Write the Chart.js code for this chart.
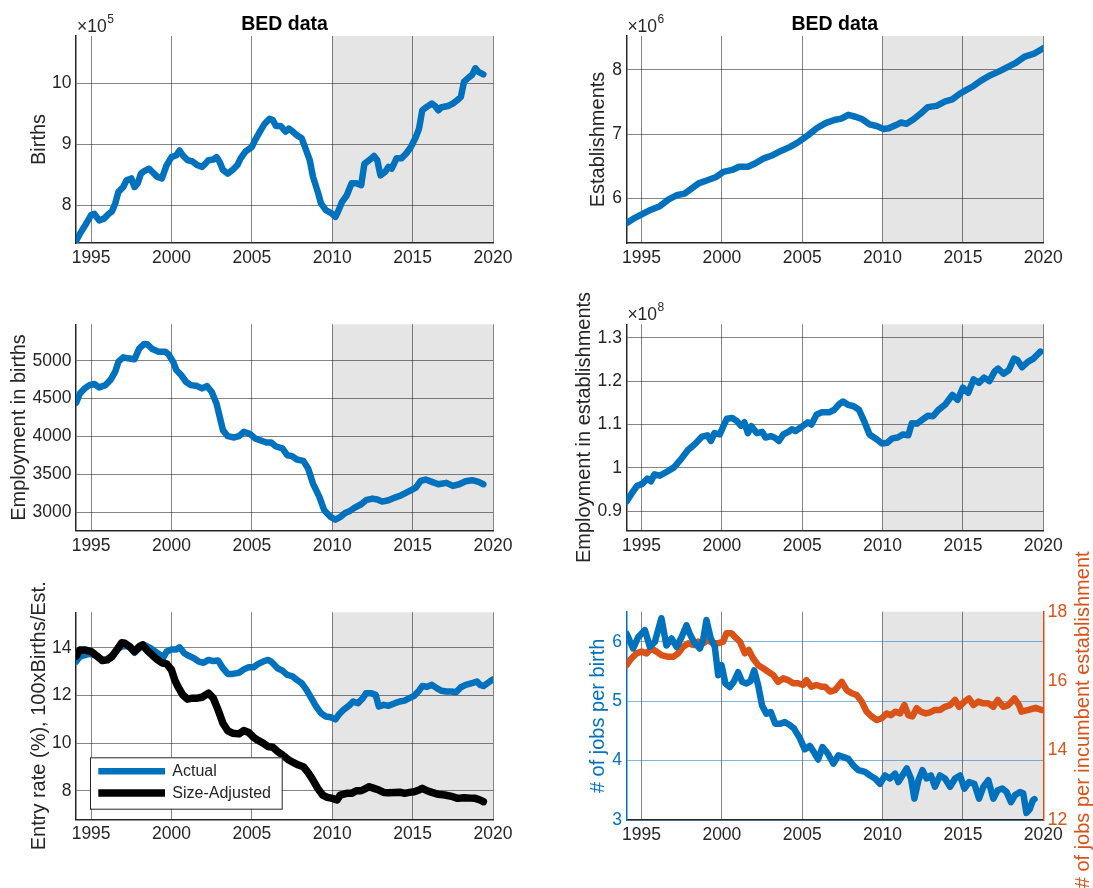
<!DOCTYPE html>
<html>
<head>
<meta charset="utf-8">
<title>BED data</title>
<script src="https://cdn.jsdelivr.net/npm/chart.js@4.4.1/dist/chart.umd.min.js"></script>
<style>
  html, body { margin: 0; padding: 0; background: #fff; width: 1093px; height: 888px; overflow: hidden; }
  canvas { position: absolute; }
</style>
</head>
<body>
<script>
// ---------------------------------------------------------------------------
// Quarterly BED series (decimal years) and the values read for each panel
// ---------------------------------------------------------------------------
const yearTicks = [1995, 2000, 2005, 2010, 2015, 2020];
const yearTickLabels = ['1995', '2000', '2005', '2010', '2015', '2020'];

// Births, x10^5
const birthYears = [
  1994.07, 1994.3, 1994.7, 1995.0, 1995.2, 1995.5, 1995.8, 1996.1, 1996.3, 1996.5,
  1996.7, 1997.0, 1997.2, 1997.5, 1997.7, 1997.9, 1998.1, 1998.3, 1998.6, 1998.8,
  1999.1, 1999.4, 1999.7, 2000.0, 2000.3, 2000.5, 2000.7, 2001.0, 2001.3, 2001.6,
  2001.9, 2002.1, 2002.3, 2002.6, 2002.8, 2003.0, 2003.2, 2003.5, 2003.8, 2004.1,
  2004.3, 2004.6, 2005.0, 2005.2, 2005.5, 2005.8, 2006.1, 2006.3, 2006.5, 2006.8,
  2007.1, 2007.3, 2007.5, 2007.8, 2008.1, 2008.3, 2008.6, 2008.8, 2009.1, 2009.3,
  2009.6, 2010.0, 2010.2, 2010.4, 2010.6, 2010.9, 2011.2, 2011.5, 2011.8, 2012.0,
  2012.3, 2012.6, 2012.8, 2013.0, 2013.3, 2013.5, 2013.7, 2014.0, 2014.3, 2014.6,
  2014.9, 2015.2, 2015.4, 2015.6, 2015.9, 2016.2, 2016.4, 2016.6, 2016.8, 2017.2,
  2017.5, 2017.8, 2018.0, 2018.2, 2018.5, 2018.7, 2018.9, 2019.1, 2019.4
];
const births = [
  7.42, 7.53, 7.70, 7.84, 7.86, 7.75, 7.78, 7.86, 7.90, 8.03,
  8.22, 8.30, 8.41, 8.44, 8.30, 8.36, 8.52, 8.56, 8.60, 8.55,
  8.47, 8.44, 8.66, 8.79, 8.82, 8.90, 8.82, 8.74, 8.72, 8.66,
  8.63, 8.68, 8.74, 8.75, 8.79, 8.71, 8.58, 8.52, 8.58, 8.66,
  8.77, 8.88, 8.96, 9.07, 9.21, 9.34, 9.42, 9.40, 9.30, 9.30,
  9.21, 9.26, 9.22, 9.15, 9.10, 8.96, 8.74, 8.47, 8.22, 8.03,
  7.92, 7.86, 7.81, 7.92, 8.05, 8.16, 8.36, 8.36, 8.33, 8.68,
  8.74, 8.81, 8.74, 8.49, 8.55, 8.63, 8.60, 8.77, 8.77, 8.85,
  8.96, 9.12, 9.26, 9.56, 9.62, 9.67, 9.63, 9.56, 9.61, 9.63,
  9.67, 9.73, 9.78, 10.03, 10.10, 10.14, 10.25, 10.19, 10.15
];

// Establishments, x10^6
const estabYears = [
  1994.06, 1994.5, 1995.04, 1995.59, 1996.14, 1996.69, 1997.24, 1997.68, 1998.11, 1998.55,
  1999.1, 1999.65, 2000.09, 2000.64, 2001.07, 2001.62, 2002.06, 2002.61, 2003.16, 2003.71,
  2004.25, 2004.8, 2005.35, 2005.9, 2006.45, 2007.0, 2007.43, 2007.87, 2008.31, 2008.75,
  2009.19, 2009.63, 2010.07, 2010.39, 2010.83, 2011.16, 2011.49, 2011.93, 2012.37, 2012.81,
  2013.36, 2013.9, 2014.34, 2014.78, 2015.22, 2015.66, 2016.1, 2016.64, 2017.19, 2017.74,
  2018.29, 2018.84, 2019.39, 2020.0
];
const establishments = [
  5.61, 5.68, 5.75, 5.82, 5.875, 5.98, 6.05, 6.07, 6.15, 6.23,
  6.28, 6.33, 6.41, 6.44, 6.49, 6.49, 6.54, 6.62, 6.67, 6.74,
  6.80, 6.88, 6.98, 7.09, 7.17, 7.22, 7.24, 7.30, 7.27, 7.23,
  7.15, 7.125, 7.08, 7.09, 7.14, 7.18, 7.16, 7.23, 7.32, 7.42,
  7.44, 7.51, 7.54, 7.625, 7.69, 7.75, 7.83, 7.91, 7.97, 8.04,
  8.11, 8.21, 8.25, 8.34
];

// Employment in births
const empBirthYears = [
  1994.07, 1994.3, 1994.6, 1994.9, 1995.2, 1995.5, 1995.9, 1996.2, 1996.5, 1996.7,
  1997.0, 1997.3, 1997.7, 1998.0, 1998.3, 1998.5, 1998.8, 1999.2, 1999.6, 1999.8,
  2000.1, 2000.3, 2000.6, 2000.9, 2001.2, 2001.6, 2001.9, 2002.2, 2002.5, 2002.8,
  2003.0, 2003.2, 2003.5, 2003.9, 2004.2, 2004.5, 2004.9, 2005.2, 2005.6, 2005.9,
  2006.2, 2006.5, 2006.9, 2007.2, 2007.5, 2007.8, 2008.2, 2008.5, 2008.8, 2009.2,
  2009.5, 2009.9, 2010.2, 2010.5, 2010.8, 2011.1, 2011.4, 2011.8, 2012.1, 2012.5,
  2012.8, 2013.1, 2013.5, 2013.9, 2014.3, 2014.7, 2015.2, 2015.5, 2015.8, 2016.2,
  2016.6, 2017.1, 2017.5, 2017.9, 2018.3, 2018.7, 2019.1, 2019.4
];
const empBirths = [
  4443, 4566, 4634, 4678, 4692, 4648, 4678, 4744, 4855, 4987,
  5044, 5031, 5018, 5163, 5220, 5216, 5154, 5119, 5119, 5088,
  4987, 4877, 4811, 4722, 4678, 4665, 4634, 4665, 4590, 4436,
  4260, 4084, 4004, 3987, 4004, 4062, 4031, 3974, 3943, 3921,
  3921, 3868, 3842, 3753, 3740, 3696, 3678, 3577, 3379, 3203,
  3027, 2938, 2903, 2938, 2991, 3018, 3062, 3106, 3159, 3181,
  3168, 3141, 3159, 3194, 3225, 3269, 3326, 3414, 3432, 3401,
  3370, 3388, 3348, 3370, 3410, 3423, 3401, 3370
];

// Employment in establishments, x10^8
const empEstabYears = [
  1994.06, 1994.39, 1994.71, 1995.04, 1995.37, 1995.59, 1995.81, 1996.14, 1996.58, 1997.02,
  1997.46, 1997.89, 1998.33, 1998.77, 1999.10, 1999.32, 1999.54, 1999.87, 2000.09, 2000.31,
  2000.64, 2000.96, 2001.18, 2001.40, 2001.62, 2001.84, 2002.17, 2002.50, 2002.72, 2003.05,
  2003.27, 2003.55, 2003.82, 2004.14, 2004.36, 2004.58, 2005.02, 2005.35, 2005.57, 2005.90,
  2006.23, 2006.67, 2007.00, 2007.33, 2007.54, 2007.87, 2008.20, 2008.53, 2008.86, 2009.19,
  2009.63, 2009.96, 2010.29, 2010.61, 2010.94, 2011.27, 2011.60, 2011.82, 2012.15, 2012.48,
  2012.81, 2013.14, 2013.46, 2013.90, 2014.34, 2014.67, 2015.00, 2015.33, 2015.66, 2015.99,
  2016.32, 2016.64, 2016.97, 2017.19, 2017.52, 2017.85, 2018.18, 2018.40, 2018.68, 2019.06,
  2019.39, 2019.82
];
const empEstab = [
  0.922, 0.941, 0.958, 0.963, 0.975, 0.969, 0.985, 0.982, 0.991, 1.001,
  1.020, 1.041, 1.055, 1.072, 1.075, 1.062, 1.080, 1.077, 1.096, 1.113,
  1.115, 1.107, 1.097, 1.105, 1.080, 1.096, 1.080, 1.083, 1.070, 1.073,
  1.070, 1.062, 1.077, 1.083, 1.089, 1.085, 1.096, 1.105, 1.100, 1.123,
  1.128, 1.128, 1.134, 1.148, 1.153, 1.145, 1.142, 1.134, 1.107, 1.077,
  1.066, 1.056, 1.058, 1.068, 1.070, 1.077, 1.075, 1.103, 1.102, 1.111,
  1.120, 1.119, 1.133, 1.146, 1.168, 1.157, 1.185, 1.173, 1.204, 1.196,
  1.208, 1.200, 1.222, 1.229, 1.217, 1.225, 1.252, 1.248, 1.232, 1.245,
  1.252, 1.268
];

// Entry rate (%), actual
const entryYears = [
  1994.07, 1994.3, 1994.6, 1994.9, 1995.4, 1995.7, 1996.0, 1996.4, 1996.7, 1997.0,
  1997.4, 1997.7, 1998.0, 1998.3, 1998.7, 1999.0, 1999.3, 1999.5, 1999.7, 2000.0,
  2000.3, 2000.5, 2000.8, 2001.1, 2001.4, 2001.7, 2002.0, 2002.3, 2002.6, 2002.9,
  2003.2, 2003.5, 2003.8, 2004.2, 2004.5, 2004.8, 2005.1, 2005.4, 2005.7, 2006.0,
  2006.2, 2006.6, 2006.9, 2007.2, 2007.5, 2007.8, 2008.1, 2008.4, 2008.7, 2009.0,
  2009.3, 2009.6, 2009.9, 2010.2, 2010.4, 2010.7, 2011.1, 2011.3, 2011.6, 2011.9,
  2012.1, 2012.4, 2012.7, 2012.9, 2013.2, 2013.5, 2013.9, 2014.2, 2014.5, 2014.8,
  2015.1, 2015.4, 2015.6, 2015.9, 2016.2, 2016.5, 2016.8, 2017.1, 2017.4, 2017.7,
  2018.0, 2018.3, 2018.7, 2019.0, 2019.2, 2019.4, 2019.8, 2020.0
];
const entryActual = [
  13.43, 13.64, 13.70, 13.75, 13.66, 13.50, 13.52, 13.75, 13.99, 14.08,
  14.06, 13.80, 13.99, 14.13, 13.99, 13.85, 13.71, 13.60, 13.85, 13.94,
  13.94, 14.03, 13.78, 13.66, 13.57, 13.43, 13.38, 13.50, 13.45, 13.47,
  13.15, 12.91, 12.91, 12.96, 13.10, 13.19, 13.19, 13.33, 13.43, 13.50,
  13.43, 13.15, 13.05, 12.87, 12.82, 12.66, 12.52, 12.24, 11.89, 11.54,
  11.26, 11.12, 11.09, 11.00, 11.19, 11.40, 11.61, 11.75, 11.68, 11.89,
  12.10, 12.10, 12.03, 11.54, 11.61, 11.57, 11.68, 11.75, 11.79, 11.89,
  11.99, 12.21, 12.40, 12.37, 12.45, 12.31, 12.20, 12.17, 12.17, 12.14,
  12.35, 12.45, 12.52, 12.59, 12.45, 12.40, 12.59, 12.68
];

// Entry rate (%), size-adjusted
const adjYears = [
  1994.07, 1994.3, 1994.6, 1995.0, 1995.4, 1995.7, 1996.0, 1996.3, 1996.6, 1996.9,
  1997.1, 1997.4, 1997.7, 1998.0, 1998.2, 1998.5, 1998.8, 1999.1, 1999.4, 1999.7,
  2000.0, 2000.2, 2000.4, 2000.7, 2001.0, 2001.3, 2001.6, 2001.9, 2002.3, 2002.6,
  2002.9, 2003.2, 2003.5, 2003.8, 2004.2, 2004.5, 2004.8, 2005.1, 2005.4, 2005.7,
  2006.0, 2006.3, 2006.6, 2006.9, 2007.3, 2007.6, 2007.9, 2008.2, 2008.5, 2008.8,
  2009.1, 2009.4, 2009.7, 2010.0, 2010.3, 2010.5, 2010.9, 2011.2, 2011.5, 2011.8,
  2012.1, 2012.3, 2012.6, 2012.9, 2013.2, 2013.5, 2013.9, 2014.2, 2014.5, 2014.8,
  2015.1, 2015.4, 2015.6, 2015.9, 2016.2, 2016.6, 2017.0, 2017.5, 2017.8, 2018.2,
  2018.6, 2018.9, 2019.2, 2019.4
];
const entryAdjusted = [
  13.66, 13.92, 13.92, 13.85, 13.64, 13.47, 13.50, 13.64, 13.92, 14.22,
  14.20, 14.06, 13.85, 14.06, 14.13, 13.89, 13.71, 13.52, 13.38, 13.33,
  13.08, 12.66, 12.38, 12.03, 11.85, 11.89, 11.89, 11.93, 12.10, 11.89,
  11.40, 10.84, 10.52, 10.42, 10.39, 10.53, 10.45, 10.25, 10.11, 10.00,
  9.86, 9.83, 9.65, 9.51, 9.29, 9.18, 9.08, 9.01, 8.76, 8.45,
  8.10, 7.82, 7.72, 7.68, 7.61, 7.82, 7.89, 7.89, 8.00, 8.00,
  8.10, 8.17, 8.10, 8.03, 7.93, 7.92, 7.93, 7.94, 7.89, 7.93,
  7.96, 8.03, 8.10, 8.00, 7.93, 7.85, 7.82, 7.75, 7.68, 7.71,
  7.69, 7.68, 7.61, 7.54
];

// Jobs per birth
const jpbYears = [
  1994.07, 1994.48, 1994.79, 1995.21, 1995.52, 1995.83, 1996.24, 1996.55, 1996.87, 1997.18,
  1997.49, 1997.80, 1998.00, 1998.28, 1998.63, 1998.83, 1999.04, 1999.31, 1999.56, 1999.77,
  1999.98, 2000.22, 2000.49, 2000.74, 2001.01, 2001.26, 2001.53, 2001.78, 2002.01, 2002.26,
  2002.50, 2002.77, 2003.04, 2003.33, 2003.64, 2003.91, 2004.22, 2004.49, 2004.85, 2005.16,
  2005.47, 2005.78, 2005.99, 2006.26, 2006.59, 2006.94, 2007.25, 2007.56, 2007.87, 2008.18,
  2008.49, 2008.91, 2009.22, 2009.53, 2009.84, 2010.15, 2010.46, 2010.78, 2010.98, 2011.23,
  2011.50, 2011.77, 2011.98, 2012.23, 2012.48, 2012.74, 2013.01, 2013.26, 2013.57, 2013.88,
  2014.20, 2014.51, 2014.82, 2015.09, 2015.38, 2015.71, 2016.00, 2016.27, 2016.58, 2016.89,
  2017.16, 2017.45, 2017.72, 2017.99, 2018.24, 2018.55, 2018.75, 2018.95, 2019.15, 2019.35,
  2019.45
];
const jobsPerBirth = [
  6.14, 5.89, 6.08, 6.20, 5.92, 6.00, 6.40, 5.94, 6.06, 5.92,
  6.08, 6.28, 6.14, 5.99, 5.89, 6.03, 6.37, 6.06, 5.92, 5.44,
  5.61, 5.30, 5.24, 5.33, 5.49, 5.33, 5.30, 5.34, 5.52, 5.27,
  4.93, 4.79, 4.82, 4.62, 4.62, 4.65, 4.60, 4.54, 4.38, 4.19,
  4.25, 4.12, 4.02, 4.23, 4.12, 3.95, 4.09, 4.06, 4.03, 3.92,
  3.84, 3.81, 3.75, 3.70, 3.61, 3.75, 3.70, 3.78, 3.64, 3.75,
  3.87, 3.70, 3.36, 3.67, 3.84, 3.70, 3.75, 3.56, 3.75, 3.70,
  3.56, 3.70, 3.75, 3.53, 3.64, 3.61, 3.36, 3.56, 3.67, 3.36,
  3.50, 3.53, 3.47, 3.30, 3.42, 3.47, 3.45, 3.12, 3.18, 3.33,
  3.35
];

// Jobs per incumbent establishment
const jpiYears = [
  1994.07, 1994.38, 1994.69, 1995.00, 1995.31, 1995.62, 1995.93, 1996.24, 1996.66, 1996.97,
  1997.28, 1997.59, 1997.90, 1998.21, 1998.52, 1998.83, 1999.15, 1999.46, 1999.77, 2000.08,
  2000.29, 2000.60, 2000.91, 2001.12, 2001.43, 2001.67, 2001.94, 2002.26, 2002.57, 2002.88,
  2003.19, 2003.50, 2003.81, 2004.12, 2004.43, 2004.74, 2005.05, 2005.26, 2005.57, 2005.88,
  2006.19, 2006.42, 2006.73, 2007.04, 2007.46, 2007.77, 2008.08, 2008.39, 2008.70, 2009.01,
  2009.32, 2009.64, 2009.95, 2010.26, 2010.53, 2010.78, 2011.09, 2011.36, 2011.60, 2011.85,
  2012.12, 2012.39, 2012.68, 2012.95, 2013.26, 2013.57, 2013.88, 2014.20, 2014.51, 2014.76,
  2015.09, 2015.38, 2015.65, 2015.96, 2016.27, 2016.58, 2016.89, 2017.16, 2017.51, 2017.82,
  2018.20, 2018.49, 2018.64, 2019.08, 2019.52, 2019.89
];
const jobsPerIncumbent = [
  16.46, 16.66, 16.80, 16.85, 16.80, 16.94, 16.85, 16.75, 16.70, 16.70,
  16.80, 16.99, 17.09, 17.04, 17.14, 17.09, 17.18, 17.09, 17.09, 17.14,
  17.38, 17.38, 17.23, 17.14, 16.80, 16.90, 16.66, 16.46, 16.37, 16.27,
  16.18, 15.98, 16.08, 16.03, 15.94, 15.94, 15.89, 16.03, 15.84, 15.89,
  15.84, 15.84, 15.70, 15.74, 15.98, 15.74, 15.65, 15.60, 15.41, 15.12,
  14.98, 14.88, 14.93, 15.07, 15.02, 15.12, 15.07, 15.31, 15.02, 14.98,
  15.22, 15.12, 15.07, 15.10, 15.17, 15.17, 15.26, 15.31, 15.46, 15.26,
  15.41, 15.50, 15.31, 15.41, 15.36, 15.36, 15.26, 15.46, 15.26, 15.31,
  15.50, 15.31, 15.12, 15.17, 15.23, 15.17
];

// ---------------------------------------------------------------------------
// Styling
// ---------------------------------------------------------------------------
const FONT = '"Liberation Sans", Arial, Helvetica, sans-serif';
const INK = '#262626';
const BLUE = '#0072BD';
const ORANGE = '#D95319';
const GRID = 'rgba(0,0,0,0.48)';
const BLUE_GRID = 'rgba(0,114,189,0.5)';
const SHADE = '#e5e5e5';
const X_MIN = 1994.06, X_MAX = 2020, SHADE_FROM = 2010;
const TICK_SIZE = 17.5, LABEL_SIZE = 20;
const LINE_W = 6.5;

Chart.defaults.font.family = FONT;
Chart.defaults.color = INK;

const toPoints = (xs, ys) => xs.map((x, i) => ({ x, y: ys[i] }));

// Grey band covering the post-2010 period, under the grid
const shadePlugin = {
  id: 'shade',
  beforeDraw(chart) {
    const { ctx, chartArea: a, scales } = chart;
    const x0 = scales.x.getPixelForValue(SHADE_FROM);
    const x1 = scales.x.getPixelForValue(X_MAX);
    ctx.save();
    ctx.fillStyle = SHADE;
    ctx.fillRect(x0, a.top, x1 - x0, a.bottom - a.top);
    ctx.restore();
  }
};

// Panel title, axis exponent, in-axes legend and right-hand axis label
const decorPlugin = {
  id: 'decor',
  afterDraw(chart, args, o) {
    const { ctx, chartArea: a } = chart;
    ctx.save();
    if (o.title) {
      ctx.font = `bold 19.5px ${FONT}`;
      ctx.fillStyle = '#000';
      ctx.textAlign = 'center';
      ctx.textBaseline = 'alphabetic';
      ctx.fillText(o.title, (a.left + a.right) / 2, a.top - 6);
    }
    if (o.exponent) {
      ctx.font = `${TICK_SIZE}px ${FONT}`;
      ctx.fillStyle = INK;
      ctx.textAlign = 'left';
      ctx.textBaseline = 'alphabetic';
      const base = '\u00d710';
      ctx.fillText(base, a.left + 1, a.top - 4);
      const w = ctx.measureText(base).width;
      ctx.font = `12px ${FONT}`;
      ctx.fillText(o.exponent, a.left + 1.5 + w, a.top - 13.5);
    }
    if (o.legend) {
      const ds = chart.data.datasets;
      const bw = 191.7, bh = 51.4;
      const bx = a.left + 14, by = a.bottom - 10.6 - bh;
      ctx.fillStyle = '#fff';
      ctx.fillRect(bx, by, bw, bh);
      ctx.strokeStyle = INK;
      ctx.lineWidth = 1;
      ctx.strokeRect(bx + 0.5, by + 0.5, bw, bh);
      ds.forEach((d, i) => {
        const yy = by + 14 + i * 21.7;
        ctx.strokeStyle = d.borderColor;
        ctx.lineWidth = d.borderWidth;
        ctx.lineCap = 'butt';
        ctx.beginPath();
        ctx.moveTo(bx + 8.3, yy);
        ctx.lineTo(bx + 75, yy);
        ctx.stroke();
        ctx.fillStyle = INK;
        ctx.font = `16px ${FONT}`;
        ctx.textAlign = 'left';
        ctx.textBaseline = 'middle';
        ctx.fillText(d.label, bx + 82.3, yy + 0.5);
      });
    }
    if (o.rightTitle) {
      ctx.translate(a.right + 39.7, (a.top + a.bottom) / 2 + 4);
      ctx.rotate(-Math.PI / 2);
      ctx.font = `${LABEL_SIZE}px ${FONT}`;
      ctx.fillStyle = ORANGE;
      ctx.textAlign = 'center';
      ctx.textBaseline = 'middle';
      ctx.fillText(o.rightTitle, 0, 0);
    }
    ctx.restore();
  }
};

function fixedTicks(values) {
  return s => { s.ticks = values.map(v => ({ value: v })); };
}

function xAxis(height) {
  return {
    type: 'linear', min: X_MIN, max: X_MAX,
    afterBuildTicks: fixedTicks(yearTicks),
    afterFit: s => { s.height = height; },
    ticks: {
      color: INK, font: { size: TICK_SIZE }, padding: 4.5,
      maxRotation: 0, autoSkip: false,
      callback: v => yearTickLabels[yearTicks.indexOf(v)] ?? ''
    },
    grid: { color: GRID, lineWidth: 1, drawTicks: false },
    border: { display: true, color: INK, width: 1.5 }
  };
}

function yAxis(spec, width, position) {
  const color = spec.color || INK;
  const axis = {
    type: 'linear', position, min: spec.min, max: spec.max,
    afterBuildTicks: fixedTicks(spec.ticks),
    afterFit: s => { s.width = width; },
    ticks: {
      color, font: { size: TICK_SIZE }, padding: 4.5,
      callback: v => spec.labels[spec.ticks.indexOf(v)] ?? ''
    },
    grid: {
      color: spec.gridColor || GRID, lineWidth: 1, drawTicks: false,
      drawOnChartArea: spec.grid !== false
    },
    border: { display: true, color, width: 1.5 }
  };
  if (spec.title) {
    axis.title = {
      display: true, text: spec.title, color,
      font: { size: LABEL_SIZE }, padding: 0
    };
  }
  return axis;
}

function line(label, xs, ys, color, width, order, axisId) {
  return {
    label, data: toPoints(xs, ys),
    borderColor: color, backgroundColor: color,
    borderWidth: width, pointRadius: 0, tension: 0,
    borderJoinStyle: 'round', borderCapStyle: 'round',
    fill: false, order, yAxisID: axisId || 'y'
  };
}

// box: canvas [left, top, width, height]; area: plot [left, top, right, bottom]
function panel(cfg) {
  const [cx, cy, cw, ch] = cfg.box;
  const [L, T, R, B] = cfg.area;
  const canvas = document.createElement('canvas');
  canvas.width = cw; canvas.height = ch;
  Object.assign(canvas.style, { left: cx + 'px', top: cy + 'px', width: cw + 'px', height: ch + 'px' });
  document.body.appendChild(canvas);

  const halfLine = LABEL_SIZE * 1.2 / 2;
  const padL = cfg.yTitleX - cx - halfLine;
  const wY = L - cx - padL;
  const wR = cfg.y2 ? 40 : 0;
  const hX = 30;

  const scales = { x: xAxis(hX), y: yAxis(cfg.y, wY, 'left') };
  if (cfg.y2) scales.y2 = yAxis(cfg.y2, wR, 'right');

  new Chart(canvas, {
    type: 'line',
    data: { datasets: cfg.datasets },
    options: {
      responsive: false, animation: false, devicePixelRatio: 1,
      layout: {
        padding: { left: padL, right: cw - (R - cx) - wR, top: T - cy, bottom: cy + ch - B - hX }
      },
      scales,
      plugins: { legend: { display: false }, tooltip: { enabled: false }, decor: cfg.decor || {} }
    },
    plugins: [shadePlugin, decorPlugin]
  });
}

// ---------------------------------------------------------------------------
// Six panels
// ---------------------------------------------------------------------------
panel({
  box: [0, 0, 540, 280], area: [76, 36, 493, 243], yTitleX: 39,
  y: { min: 7.38, max: 10.78, ticks: [8, 9, 10], labels: ['8', '9', '10'], title: 'Births' },
  datasets: [line('Births', birthYears, births, BLUE, LINE_W, 0)],
  decor: { title: 'BED data', exponent: '5' }
});

panel({
  box: [540, 0, 553, 280], area: [626.4, 36, 1043.3, 243], yTitleX: 598.2,
  y: { min: 5.30, max: 8.53, ticks: [6, 7, 8], labels: ['6', '7', '8'], title: 'Establishments' },
  datasets: [line('Establishments', estabYears, establishments, BLUE, LINE_W, 0)],
  decor: { title: 'BED data', exponent: '6' }
});

panel({
  box: [0, 280, 540, 290], area: [76, 324.3, 493, 530.7], yTitleX: 19,
  y: { min: 2757, max: 5480, ticks: [3000, 3500, 4000, 4500, 5000],
       labels: ['3000', '3500', '4000', '4500', '5000'], title: 'Employment in births' },
  datasets: [line('Employment in births', empBirthYears, empBirths, BLUE, LINE_W, 0)]
});

panel({
  box: [540, 280, 553, 290], area: [626.4, 324.3, 1043.3, 530.7], yTitleX: 584.8,
  y: { min: 0.855, max: 1.331, ticks: [0.9, 1, 1.1, 1.2, 1.3],
       labels: ['0.9', '1', '1.1', '1.2', '1.3'], title: 'Employment in establishments' },
  datasets: [line('Employment in establishments', empEstabYears, empEstab, BLUE, LINE_W, 0)],
  decor: { exponent: '8' }
});

panel({
  box: [0, 570, 540, 318], area: [76, 612.3, 493, 819.3], yTitleX: 39.3,
  y: { min: 6.8, max: 15.5, ticks: [8, 10, 12, 14], labels: ['8', '10', '12', '14'],
       title: 'Entry rate (%), 100xBirths/Est.' },
  datasets: [
    line('Actual', entryYears, entryActual, BLUE, LINE_W, 1),
    line('Size-Adjusted', adjYears, entryAdjusted, '#000', 7.5, 0)
  ],
  decor: { legend: true }
});

panel({
  box: [540, 480, 553, 408], area: [626.4, 611.7, 1043.3, 820], yTitleX: 598.2,
  y: { min: 3, max: 6.51, ticks: [3, 4, 5, 6], labels: ['3', '4', '5', '6'],
       title: '# of jobs per birth', color: BLUE, gridColor: BLUE_GRID },
  y2: { min: 12, max: 18, ticks: [12, 14, 16, 18], labels: ['12', '14', '16', '18'],
        color: ORANGE, grid: false },
  datasets: [
    line('# of jobs per birth', jpbYears, jobsPerBirth, BLUE, LINE_W, 0, 'y'),
    line('# of jobs per incumbent establishment', jpiYears, jobsPerIncumbent, ORANGE, LINE_W, 1, 'y2')
  ],
  decor: { rightTitle: '# of jobs per incumbent establishment' }
});
</script>
</body>
</html>
